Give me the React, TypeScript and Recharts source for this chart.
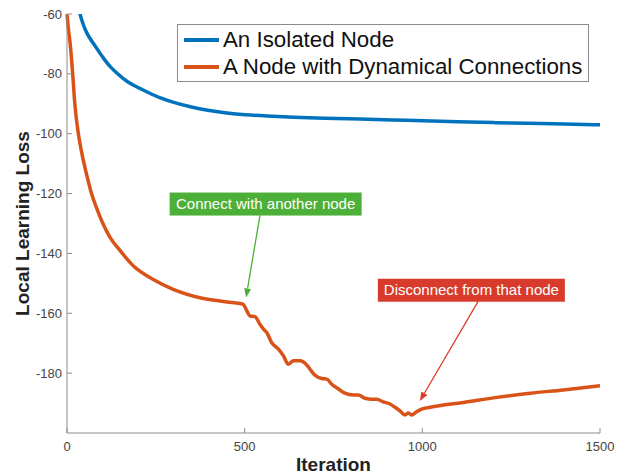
import {
  LineChart,
  Line,
  XAxis,
  YAxis,
  Legend,
  ReferenceLine,
  ReferenceDot,
} from "recharts";

const seriesNames = ["An Isolated Node", "A Node with Dynamical Connections"];

const isolatedIter = [30, 42, 55, 74, 90, 105, 121, 145, 168, 200, 230, 262, 300, 355, 400, 449, 500, 560, 637, 720, 825, 920, 1000, 1100, 1200, 1300, 1400, 1500];
const isolatedLoss = [-57, -62.5, -66.5, -69.8, -72.6, -75.2, -77.6, -80.3, -82.6, -84.6, -86.3, -88.1, -89.6, -91.3, -92.3, -93.1, -93.7, -94.1, -94.5, -94.8, -95.1, -95.4, -95.7, -96, -96.3, -96.5, -96.8, -97];

const dynamicIter = [
  0, 4, 9, 16, 22, 32, 40, 48, 58, 69, 84, 101, 122, 149, 187, 243, 299, 374, 450, 496,
  506, 515, 529, 543, 553, 562, 576, 595, 609, 623, 637, 656, 675, 684, 698,
  717, 731, 745, 764, 782, 806, 820, 839, 858, 872, 890, 909, 923, 937, 951,
  961, 970, 984, 998, 1022, 1116, 1210, 1304, 1397, 1500,
];
const dynamicLoss = [
  -60, -65, -70, -80, -90, -100, -105.5, -110, -115, -120, -125, -130, -134.8, -139, -144.2, -148.7, -152, -154.8, -156.2, -157,
  -159.2, -160.9, -161.1, -163.7, -165.3, -166.4, -169.8, -172, -174.2, -177, -175.9, -175.9, -177.3, -178.7, -180.7,
  -181.8, -182, -183.7, -185.3, -186.7, -187.3, -187.3, -188.4, -188.7, -188.7, -189.6, -190.3, -191.4, -192.6, -194,
  -193.3, -194, -192.9, -192, -191.4, -189.8, -188.1, -186.7, -185.6, -184.2,
];

const xTicks = [0, 500, 1000, 1500];
const yTicks = [-180, -160, -140, -120, -100, -80, -60];

const isolated = isolatedIter.map((it, i) => ({ iter: it, loss: isolatedLoss[i] }));
const dynamic = dynamicIter.map((it, i) => ({ iter: it, loss: dynamicLoss[i] }));

const FONT = '"Liberation Sans", Arial, Helvetica, sans-serif';
const FRAME = "#8c8c8c";
const BLUE = "#0072BD";
const ORANGE = "#D95319";

function arrow(color: string) {
  return (props: any) => {
    const { x1, y1, x2, y2 } = props;
    const ang = Math.atan2(y2 - y1, x2 - x1);
    const len = 9;
    const w = 3.5;
    const bx = x2 - len * Math.cos(ang);
    const by = y2 - len * Math.sin(ang);
    const px = -Math.sin(ang) * w;
    const py = Math.cos(ang) * w;
    return (
      <g>
        <line x1={x1} y1={y1} x2={bx} y2={by} stroke={color} strokeWidth={1.3} />
        <polygon points={`${x2},${y2} ${bx + px},${by + py} ${bx - px},${by - py}`} fill={color} />
      </g>
    );
  };
}

function note(text: string, color: string, w: number) {
  return (props: any) => {
    const { cx, cy } = props;
    return (
      <g>
        <rect x={cx - w / 2} y={cy - 11.5} width={w} height={23} fill={color} />
        <text x={cx} y={cy + 5} textAnchor="middle" fill="#fff" fontSize={15} fontFamily={FONT}>
          {text}
        </text>
      </g>
    );
  };
}

function LegendBox(props: any) {
  const items = [...(props.payload || [])].sort(
    (a: any, b: any) => seriesNames.indexOf(a.value) - seriesNames.indexOf(b.value)
  );
  return (
    <div
      style={{
        width: 410,
        height: 56,
        border: `1px solid ${FRAME}`,
        background: "#fff",
        fontFamily: FONT,
        fontSize: 22.3,
        color: "#111",
        boxSizing: "content-box",
      }}
    >
      {items.map((p: any, i: number) => (
        <div key={i} style={{ display: "flex", alignItems: "center", height: 27, marginTop: i === 0 ? 1 : 0 }}>
          <div style={{ width: 35, height: 4, background: p.color, marginLeft: 6, marginRight: 4 }} />
          <span>{p.value}</span>
        </div>
      ))}
    </div>
  );
}

export default function App() {
  return (
    <div style={{ position: "absolute", left: 0, top: 0, background: "#fff" }}>
      <LineChart width={618} height={476} margin={{ top: 14, right: 18, bottom: 0, left: 0 }}>
        <XAxis
          dataKey="iter"
          type="number"
          domain={[0, 1500]}
          ticks={xTicks}
          height={43}
          stroke={FRAME}
          tickSize={-5}
          tickMargin={14}
          tick={{ fill: "#444", fontSize: 13, fontFamily: FONT }}
          allowDuplicatedCategory={false}
          label={{
            value: "Iteration",
            position: "insideBottom",
            offset: 5,
            style: { fontSize: 19, fontWeight: "bold", fill: "#222", fontFamily: FONT },
          }}
        />
        <XAxis
          xAxisId="top"
          dataKey="iter"
          type="number"
          orientation="top"
          mirror
          domain={[0, 1500]}
          ticks={xTicks}
          tick={false}
          tickSize={5}
          stroke={FRAME}
          height={0}
        />
        <YAxis
          type="number"
          domain={[-200, -60]}
          ticks={yTicks}
          width={67}
          stroke={FRAME}
          tickSize={-5}
          tickMargin={10}
          allowDataOverflow
          tick={{ fill: "#444", fontSize: 13, fontFamily: FONT }}
          label={{
            value: "Local Learning Loss",
            angle: -90,
            position: "insideLeft",
            offset: 22,
            style: { fontSize: 19, fontWeight: "bold", fill: "#222", fontFamily: FONT, textAnchor: "middle" },
          }}
        />
        <YAxis
          yAxisId="r"
          type="number"
          orientation="right"
          mirror
          domain={[-200, -60]}
          ticks={yTicks}
          tick={false}
          tickSize={5}
          stroke={FRAME}
          width={0}
        />
        <Line
          data={isolated}
          dataKey="loss"
          name={seriesNames[0]}
          type="basis"
          stroke={BLUE}
          strokeWidth={3.5}
          dot={false}
          isAnimationActive={false}
        />
        <Line
          data={dynamic}
          dataKey="loss"
          name={seriesNames[1]}
          type="monotone"
          stroke={ORANGE}
          strokeWidth={3.5}
          dot={false}
          isAnimationActive={false}
        />
        <ReferenceLine segment={[{ x: 543, y: -127.3 }, { x: 504, y: -154.7 }]} shape={arrow("#4caf38")} />
        <ReferenceLine segment={[{ x: 1157, y: -156 }, { x: 993, y: -189.3 }]} shape={arrow("#e03a2c")} />
        <ReferenceDot x={559} y={-123.5} r={0} shape={note("Connect with another node", "#4caf38", 192)} />
        <ReferenceDot x={1138} y={-152.3} r={0} shape={note("Disconnect from that node", "#d83b2b", 187)} />
        <Legend
          layout="vertical"
          align="center"
          verticalAlign="middle"
          content={LegendBox}
          wrapperStyle={{ left: 177, top: 24, width: "auto" }}
        />
      </LineChart>
    </div>
  );
}
